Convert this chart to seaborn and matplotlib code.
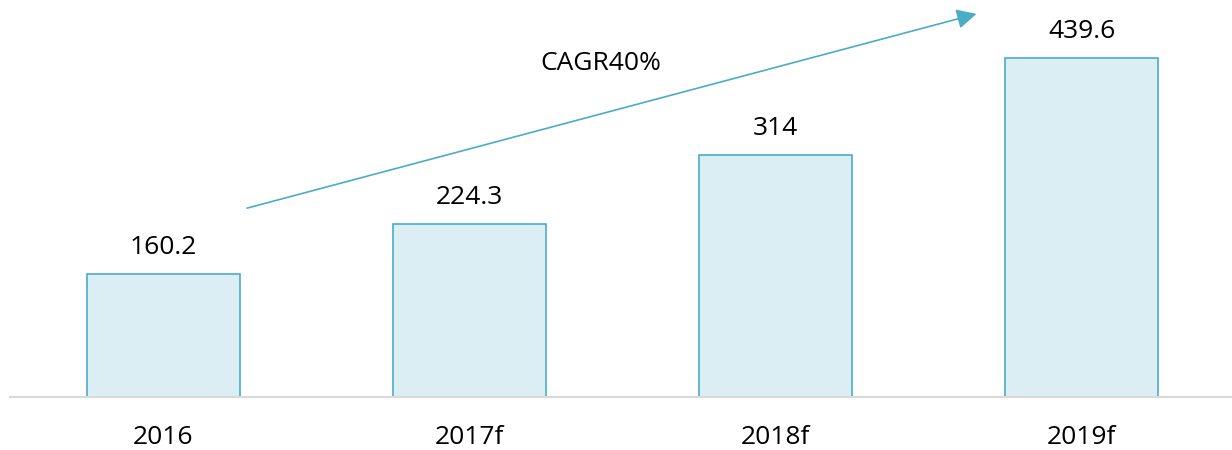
import matplotlib
matplotlib.use("Agg")
import matplotlib.pyplot as plt
import seaborn as sns
import pandas as pd

categories = ["2016", "2017f", "2018f", "2019f"]
values = [160.2, 224.3, 314, 439.6]
value_labels = ["160.2", "224.3", "314", "439.6"]
cagr_label = "CAGR40%"

sns.set_theme(style="white")
plt.rcParams['font.family'] = ['Open Sans', 'DejaVu Sans']

df = pd.DataFrame({"year": categories, "value": values})

fig = plt.figure(figsize=(12.32, 4.5), dpi=100)
ax = fig.add_axes([10/1232, 53/450, 1222/1232, 397/450])

sns.barplot(data=df, x="year", y="value", ax=ax, width=0.5,
            color="#DAEEF3", edgecolor="#4BACC6", linewidth=1.2,
            saturation=1)

ax.set_xlim(-0.5, 3.49)
ax.set_ylim(0, 515)

for i, (v, lab) in enumerate(zip(values, value_labels)):
    ax.annotate(lab, xy=(i, v), xytext=(0, 10), textcoords="offset points",
                ha="center", va="bottom", fontsize=19, color="#000000")

ax.set_xlabel("")
ax.set_ylabel("")
ax.set_yticks([])
ax.tick_params(axis="x", length=0, pad=20, labelsize=19, labelcolor="#000000")
for s in ["top", "right", "left"]:
    ax.spines[s].set_visible(False)
ax.spines["bottom"].set_color("#D9D9D9")
ax.spines["bottom"].set_linewidth(1.5)

ax.annotate("", xy=(2.656, 497), xytext=(0.274, 245),
            arrowprops=dict(arrowstyle="-|>", color="#4BACC6", lw=1.2,
                            mutation_scale=30, shrinkA=0, shrinkB=0))
ax.text(1.429, 432, cagr_label, ha="center", va="center", fontsize=19, color="#000000")

fig.savefig("out.png", dpi=100)
